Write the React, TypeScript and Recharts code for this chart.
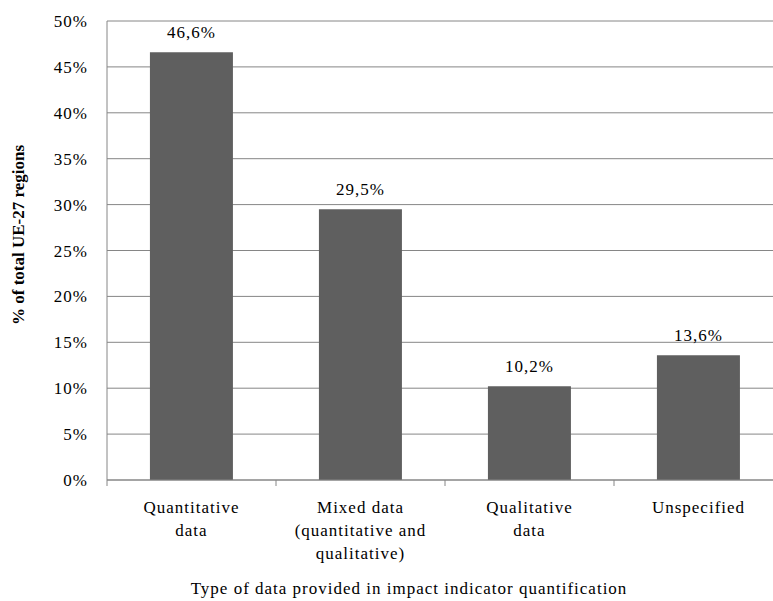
import { BarChart, Bar, XAxis, YAxis, CartesianGrid, LabelList, Label } from "recharts";

const categories = [
  "Quantitative\ndata",
  "Mixed data\n(quantitative and\nqualitative)",
  "Qualitative\ndata",
  "Unspecified",
];
const shares = [46.6, 29.5, 10.2, 13.6];
const yTicks = [0, 5, 10, 15, 20, 25, 30, 35, 40, 45, 50];

const data = categories.map((name, i) => ({ name, value: shares[i] }));

const FONT = "'Liberation Serif', 'Times New Roman', serif";
const AXIS = "#868686";
const txt = { fontFamily: FONT, fontSize: 17, fill: "#000", letterSpacing: 1 };

// multi-line tick label + tick mark at the left edge of each category band
function CategoryTick(props: any) {
  const { x, y, payload, index, visibleTicksCount } = props;
  const half = payload.offset ?? 84.5;
  const lines = String(payload.value).split("\n");
  return (
    <g>
      <line x1={x - half} y1={y} x2={x - half} y2={y + 6} stroke={AXIS} />
      {index === visibleTicksCount - 1 && (
        <line x1={x + half} y1={y} x2={x + half} y2={y + 6} stroke={AXIS} />
      )}
      <text x={x} y={y + 33} textAnchor="middle" style={txt}>
        {lines.map((l, i) => (
          <tspan key={i} x={x} dy={i === 0 ? 0 : 23}>
            {l}
          </tspan>
        ))}
      </text>
    </g>
  );
}

function YTitle() {
  return (
    <text
      x={18.5}
      y={235}
      transform="rotate(-90 18.5 235)"
      textAnchor="middle"
      dominantBaseline="central"
      style={{ fontFamily: FONT, fontSize: 17, fontWeight: "bold", fill: "#000" }}
    >
      % of total UE-27 regions
    </text>
  );
}

export default function App() {
  return (
    <div style={{ position: "absolute", left: 0, top: 0, width: 773, height: 601, overflow: "hidden", background: "#fff", fontFamily: FONT }}>
      <BarChart
        width={800}
        height={601}
        data={data}
        margin={{ top: 21, right: 17, bottom: 0, left: 0 }}
        barCategoryGap="25.4%"
      >
        <CartesianGrid vertical={false} stroke={AXIS} strokeWidth={1} />
        <XAxis
          dataKey="name"
          height={121}
          tickLine={false}
          tickSize={0}
          tickMargin={0}
          axisLine={{ stroke: AXIS }}
          interval={0}
          tick={<CategoryTick />}
        >
          <Label
            value="Type of data provided in impact indicator quantification"
            position="insideBottom"
            offset={7}
            dx={-36}
            style={txt}
          />
        </XAxis>
        <YAxis
          width={107}
          domain={[0, 50]}
          ticks={yTicks}
          interval={0}
          tickLine={false}
          tickSize={0}
          tickMargin={19}
          axisLine={{ stroke: AXIS }}
          tickFormatter={(v: number) => `${v}%`}
          tick={{ style: txt }}
        >
          <Label content={<YTitle />} />
        </YAxis>
        <Bar dataKey="value" fill="#5f5f5f" isAnimationActive={false}>
          <LabelList
            dataKey="value"
            position="top"
            offset={14}
            formatter={(v: any) => `${Number(v).toFixed(1).replace(".", ",")}%`}
            style={txt}
          />
        </Bar>
      </BarChart>
    </div>
  );
}
